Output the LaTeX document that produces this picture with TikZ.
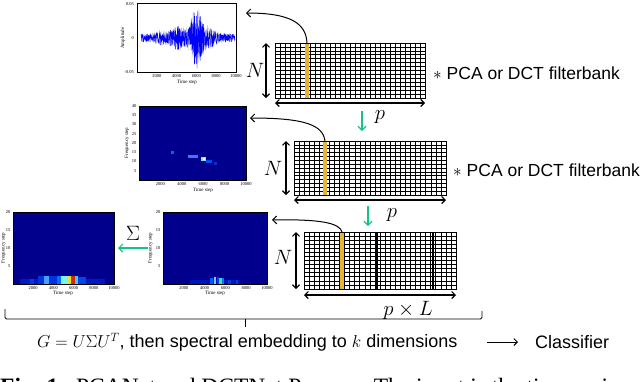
\documentclass[tikz,border=0pt]{standalone}
\usepackage{fontspec}
\setmainfont{Liberation Serif}
\setsansfont{Liberation Sans}
\usetikzlibrary{arrows.meta,calc}
\definecolor{jetbg}{RGB}{0,0,140}
\definecolor{colyellow}{RGB}{232,180,50}
\definecolor{arrgreen}{RGB}{20,195,140}
\newcommand{\mkgrid}[3]{%
  \pgfmathtruncatemacro\ncm{#2-1}\pgfmathtruncatemacro\nrm{#3-1}%
  \foreach \i in {1,...,\ncm}{\draw[gline] ($(#1.north west)!\i/#2!(#1.north east)$) -- ($(#1.south west)!\i/#2!(#1.south east)$);}%
  \foreach \j in {1,...,\nrm}{\draw[gline] ($(#1.north west)!\j/#3!(#1.south west)$) -- ($(#1.north east)!\j/#3!(#1.south east)$);}%
}
\newcommand{\cell}[5]{\definecolor{tmpc}{RGB}{#1}\fill[tmpc] (#2,#3) rectangle (#4,#5);}
\begin{document}
\begin{tikzpicture}[x=1pt,y=-1pt,
  gridbox/.style={draw, line width=0.7pt, inner sep=0, outer sep=0, rectangle},
  gline/.style={line width=0.6pt},
  dimarrow/.style={{Straight Barb[length=3.5pt,width=7pt]}-{Straight Barb[length=3.5pt,width=7pt]}, line width=1.1pt},
  curvarrow/.style={-{Straight Barb[length=4pt,width=8pt]}, line width=1pt},
  garrow/.style={-{Straight Barb[length=4pt,width=8pt]}, arrgreen, line width=1.2pt},
  plotbox/.style={draw, line width=0.4pt, inner sep=0, outer sep=0},
  tick/.style={font=\fontsize{4.5}{4.5}\selectfont, inner sep=0},
  axlab/.style={font=\fontsize{5}{5}\selectfont, inner sep=0},
  mlab/.style={font=\fontsize{20}{20}\selectfont, inner sep=0},
  lbl/.style={font=\fontsize{17.5}{17.5}\selectfont\sffamily, inner sep=0, anchor=west},
  declare function={env(\t)=4+3*exp(-((\t-160)/5)^2)+8*exp(-((\t-178)/9)^2)+22*exp(-((\t-196)/6)^2)+7*exp(-((\t-206)/10)^2);}
]
\useasboundingbox (0,0) rectangle (640,381);

% ---------- grid 1 ----------
\node[gridbox, minimum width=150pt, minimum height=55pt] (g1) at (350,70.5) {};
\mkgrid{g1}{30}{14}
\fill[colyellow] ($(g1.north west)+(30,0)$) rectangle ($(g1.south west)+(34,0)$);
\draw[line width=0.7pt] (g1.north west) rectangle (g1.south east);
\coordinate (y1) at ($(g1.north west)+(32,0)$);
\coordinate (n1a) at ($(g1.north west)+(-9,0)$);
\coordinate (n1b) at ($(g1.south west)+(-9,0)$);
\coordinate (h1a) at ($(g1.south west)+(0,5)$);
\coordinate (h1b) at ($(g1.south east)+(0,5)$);
\draw[dimarrow] (n1a) -- (n1b);
\draw[dimarrow] (h1a) -- (h1b);
\node[mlab] (N1) at (255,70) {$N$};
\node[mlab] (P1) at (380,117) {$p$};
\node[lbl] (f1) at (433,73) {$\ast$ PCA or DCT filterbank};

% ---------- grid 2 ----------
\node[gridbox, minimum width=152pt, minimum height=54pt] (g2) at (370,168) {};
\mkgrid{g2}{30}{14}
\fill[colyellow] ($(g2.north west)+(29,0)$) rectangle ($(g2.south west)+(33,0)$);
\draw[line width=0.7pt] (g2.north west) rectangle (g2.south east);
\coordinate (y2) at ($(g2.north west)+(31,0)$);
\coordinate (n2a) at ($(g2.north west)+(-8,0)$);
\coordinate (n2b) at ($(g2.south west)+(-8,0)$);
\coordinate (h2a) at ($(g2.south west)+(0,5)$);
\coordinate (h2b) at ($(g2.south east)+(0,5)$);
\draw[dimarrow] (n2a) -- (n2b);
\draw[dimarrow] (h2a) -- (h2b);
\node[mlab] (N2) at (273,168) {$N$};
\node[mlab] (P2) at (392,215) {$p$};
\node[lbl] (f2) at (453,170) {$\ast$ PCA or DCT filterbank};

% ---------- grid 3 ----------
\node[gridbox, minimum width=152pt, minimum height=57pt] (g3) at (380,260.5) {};
\mkgrid{g3}{30}{14}
\draw[line width=1.2pt] ($(g3.north west)+(73,0)$) -- ($(g3.south west)+(73,0)$);
\draw[line width=1.2pt] ($(g3.north west)+(129,0)$) -- ($(g3.south west)+(129,0)$);
\fill[colyellow] ($(g3.north west)+(36,0)$) rectangle ($(g3.south west)+(40,0)$);
\draw[line width=0.7pt] (g3.north west) rectangle (g3.south east);
\coordinate (y3) at ($(g3.north west)+(38,0)$);
\coordinate (n3a) at ($(g3.north west)+(-8,0)$);
\coordinate (n3b) at ($(g3.south west)+(-8,0)$);
\coordinate (h3a) at ($(g3.south west)+(0,6)$);
\coordinate (h3b) at ($(g3.south east)+(0,6)$);
\draw[dimarrow] (n3a) -- (n3b);
\draw[dimarrow] (h3a) -- (h3b);
\node[mlab] (N3) at (283,257) {$N$};
\node[mlab] (PL) at (408,310) {$p\times L$};

% ---------- green arrows ----------
\coordinate (ga1) at (362,111); \coordinate (gb1) at (362,131);
\coordinate (ga2) at (368,206); \coordinate (gb2) at (368,226);
\draw[garrow] (ga1) -- (gb1);
\draw[garrow] (ga2) -- (gb2);

% ---------- plot 1: waveform ----------
\node[plotbox, minimum width=99pt, minimum height=69pt] (p1) at (186.5,37.5) {};
\begin{scope}
\clip (p1.north west) rectangle (p1.south east);
\pgfmathsetseed{11}
\draw[gray!55, line width=0.3pt] plot[domain=141:235, samples=450, variable=\t] (\t, {38+1.15*rand*env(\t)});
\draw[blue, line width=0.35pt] plot[domain=141:235, samples=550, variable=\t] (\t, {38+rand*env(\t)});
\end{scope}
\draw[plotbox] (p1.north west) rectangle (p1.south east);
\node[tick, anchor=east] at (134,4) {0.05};
\node[tick, anchor=east] at (134,38) {0};
\node[tick, anchor=east] at (134,72) {-0.05};
\foreach \xx/\tt in {156.8/2000,176.6/4000,196.4/6000,216.2/8000,236/10000}
  \node[tick] at (\xx,76.5) {\tt};
\node[axlab] at (187,82) {Time step};
\node[axlab, rotate=90] at (123,38) {Amplitude};
\coordinate (a1) at (246,13);
\draw[curvarrow] (y1) .. controls (306,24) and (292,13) .. (a1);

% ---------- plot 2: spectrogram ----------
\node[plotbox, fill=jetbg, minimum width=107pt, minimum height=74pt] (p2) at (192.5,143) {};
\cell{20,90,255}{171}{151}{174}{154}
\cell{60,120,255}{188}{155}{198}{158}
\cell{150,220,255}{201}{157}{206}{161}
\cell{255,255,255}{203}{158}{205}{160}
\cell{0,80,240}{206}{160}{212}{163}
\cell{0,50,220}{214}{162}{217}{165}
\draw[plotbox] (p2.north west) rectangle (p2.south east);
\foreach \yy/\tt in {106/40,115.25/35,124.5/30,133.75/25,143/20,152.25/15,161.5/10,170.75/5}
  \node[tick, anchor=east] at (136.5,\yy) {\tt};
\foreach \xx/\tt in {160.4/2000,181.8/4000,203.2/6000,224.6/8000,246/10000}
  \node[tick] at (\xx,184.5) {\tt};
\node[axlab] at (203,190.5) {Time step};
\node[axlab, rotate=90] at (127,143) {Frequency step};
\coordinate (a2) at (250,118);
\draw[curvarrow] (y2) .. controls (323,125) and (305,118) .. (a2);

% ---------- plot 3 ----------
\node[plotbox, fill=jetbg, minimum width=101pt, minimum height=72pt] (p3) at (63.5,248) {};
\cell{0,25,200}{20}{279}{105}{284}
\cell{0,50,225}{38}{276}{60}{284}
\cell{0,60,230}{30}{279}{34}{284}
\cell{70,160,255}{44}{276}{49}{284}
\cell{0,110,255}{57}{276}{61}{284}
\cell{130,240,235}{61}{276}{68}{284}
\cell{220,230,40}{68}{276}{71}{284}
\cell{210,40,0}{71}{276}{75}{284}
\cell{60,200,255}{75}{276}{78}{284}
\cell{0,70,230}{78}{277}{86}{284}
\draw[plotbox] (p3.north west) rectangle (p3.south east);
\foreach \yy/\tt in {212/20,230/15,248/10,266/5}
  \node[tick, anchor=east] at (10.5,\yy) {\tt};
\foreach \xx/\tt in {33.2/2000,53.4/4000,73.6/6000,93.8/8000,114/10000}
  \node[tick] at (\xx,288) {\tt};
\node[axlab] at (63,293.5) {Time step};
\node[axlab, rotate=90] at (3.5,248) {Frequency step};

% ---------- plot 4 ----------
\node[plotbox, fill=jetbg, minimum width=104pt, minimum height=72pt] (p4) at (215,248) {};
\cell{0,20,190}{190}{280}{240}{284}
\cell{0,90,255}{210}{278}{213}{284}
\cell{120,200,255}{214}{277}{216}{284}
\cell{0,60,240}{217}{277}{219}{284}
\cell{80,220,140}{219}{278}{222}{284}
\cell{0,120,255}{222}{278}{224}{284}
\cell{0,60,220}{228}{280}{231}{284}
\cell{0,60,220}{236}{280}{238}{284}
\draw[plotbox] (p4.north west) rectangle (p4.south east);
\foreach \yy/\tt in {212/20,230/15,248/10,266/5}
  \node[tick, anchor=east] at (160.5,\yy) {\tt};
\foreach \xx/\tt in {183.8/2000,204.6/4000,225.4/6000,246.2/8000,267/10000}
  \node[tick] at (\xx,288) {\tt};
\node[axlab] at (215,293.5) {Time step};
\node[axlab, rotate=90] at (150.5,248) {Frequency step};
\coordinate (a3) at (272,220);
\draw[curvarrow] (y3) .. controls (340,223) and (320,219) .. (a3);

% ---------- sum arrow ----------
\coordinate (gs1) at (148,248); \coordinate (gs2) at (118,248);
\draw[garrow] (gs1) -- (gs2);
\node[mlab, font=\fontsize{22}{22}\selectfont] (S) at (133,233) {$\Sigma$};

% ---------- brace and bottom text ----------
\coordinate (bl) at (5,309); \coordinate (br) at (482,311);
\coordinate (bm) at (245,319); \coordinate (bt) at (245,327);
\draw[line width=0.9pt, rounded corners=1.5pt] (bl) -- (5,319) -- (482,319) -- (br);
\draw[line width=0.9pt] (bm) -- (bt);
\node[lbl, font=\fontsize{18}{18}\selectfont\sffamily] (emb) at (37,342) {$G = U\Sigma U^T$, then spectral embedding to $k$ dimensions};
\node[lbl, font=\fontsize{18}{18}\selectfont\sffamily] (cls) at (535,342) {Classifier};
\coordinate (ca) at ($(cls.west)+(-48,0)$);
\coordinate (cb) at ($(cls.west)+(-17,0)$);
\draw[line width=0.9pt, -{Straight Barb[length=3.5pt,width=7pt]}] (ca) -- (cb);

% ---------- caption (cut off as in the reference) ----------
\node[anchor=base west, inner sep=0, font=\fontsize{23.5}{23.5}\selectfont] (cap) at (0,394) {\textbf{Fig. 1.}\hspace{12pt}PCANet and DCTNet Process. The input is the time series};
\end{tikzpicture}
\end{document}
